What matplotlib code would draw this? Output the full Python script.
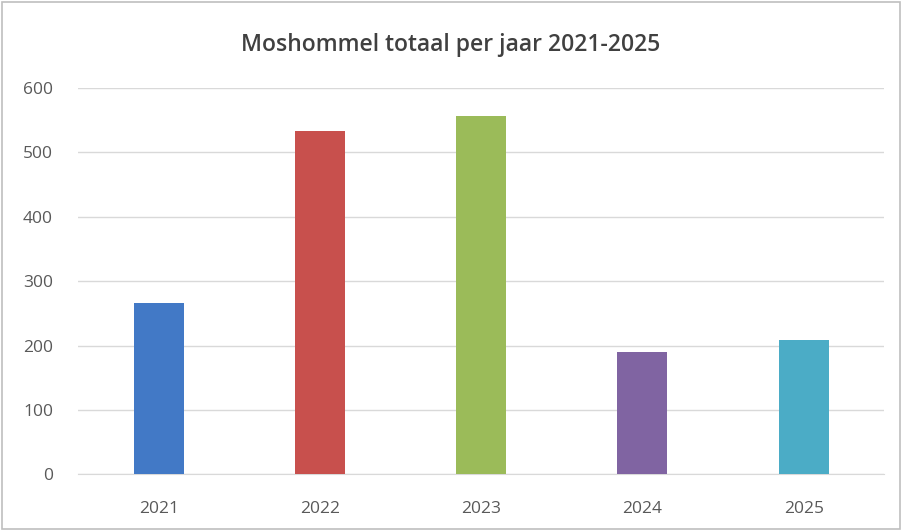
import matplotlib.pyplot as plt
from matplotlib.patches import Rectangle

years = ['2021', '2022', '2023', '2024', '2025']
totals = [266, 533, 557, 190, 208]
bar_colors = ['#4279C6', '#C8504D', '#9BBB59', '#8064A2', '#4BACC6']

plt.rcParams['font.family'] = ['Open Sans', 'DejaVu Sans']

fig = plt.figure(figsize=(9.02, 5.31), dpi=100)
ax = fig.add_axes([0.0865, 0.107, 0.894, 0.727])

x = range(len(years))
ax.bar(x, totals, width=0.31, color=bar_colors, zorder=3)

ax.set_xlim(-0.5, len(years) - 0.5)
ax.set_ylim(0, 600)
ax.set_yticks(range(0, 601, 100))
ax.set_xticks(list(x))
ax.set_xticklabels(years)
ax.grid(axis='y', color='#D9D9D9', linewidth=1, zorder=0)
ax.tick_params(axis='both', length=0, labelsize=12.5, colors='#595959')
ax.tick_params(axis='x', pad=19)
ax.tick_params(axis='y', pad=18)

for s in ['top', 'right', 'left']:
    ax.spines[s].set_visible(False)
ax.spines['bottom'].set_color('#D9D9D9')

fig.text(0.5, 0.915, 'Moshommel totaal per jaar 2021-2025', ha='center', va='center',
         fontsize=16.5, fontweight='semibold', color='#404040')

fig.patches.append(Rectangle((0.002, 0.003), 0.996, 0.994, transform=fig.transFigure,
                             fill=False, edgecolor='#BFBFBF', linewidth=1.2))

fig.savefig('out.png', dpi=100)
